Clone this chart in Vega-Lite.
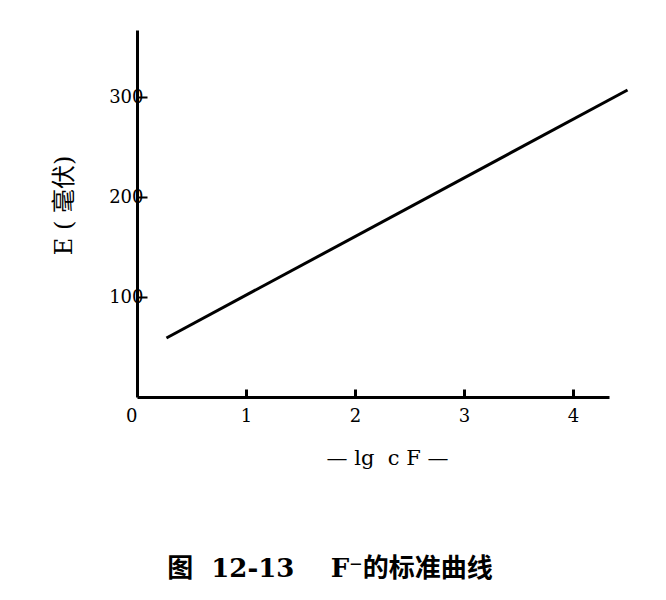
{
  "$schema": "https://vega.github.io/schema/vega-lite/v6.json",
  "width": 472,
  "height": 367,
  "autosize": {"type": "none"},
  "padding": {"left": 137, "top": 30, "right": 57, "bottom": 203},
  "background": "white",
  "config": {"view": {"stroke": null}, "font": "DejaVu Serif"},
  "title": {
    "text": "图\u00a0\u00a012-13\u00a0\u00a0\u00a0\u00a0F⁻的标准曲线",
    "orient": "bottom",
    "anchor": "middle",
    "dx": -43,
    "offset": 88,
    "font": "DejaVu Serif, Noto Sans CJK SC",
    "fontSize": 26,
    "fontWeight": "bold",
    "color": "black"
  },
  "data": {
    "values": [
      {"lgc": 0.27, "E": 59},
      {"lgc": 4.5, "E": 307}
    ]
  },
  "mark": {"type": "line", "color": "black", "strokeWidth": 3, "clip": false},
  "encoding": {
    "x": {
      "field": "lgc",
      "type": "quantitative",
      "scale": {"domain": [0, 4.33], "nice": false, "zero": true},
      "axis": {
        "values": [0, 1, 2, 3, 4],
        "title": "—\u00a0lg\u00a0\u00a0c\u00a0F\u00a0—",
        "titleFont": "DejaVu Serif",
        "titleFontSize": 21,
        "titleFontWeight": "normal",
        "titleColor": "black",
        "titlePadding": 22,
        "titleX": 250,
        "titleAlign": "center",
        "labelFont": "DejaVu Serif",
        "labelFontSize": 18,
        "labelColor": "black",
        "labelPadding": 18,
        "labelAlign": {"condition": {"test": "datum.value === 0", "value": "right"}, "value": "center"},
        "tickSize": -8,
        "tickWidth": 3,
        "tickColor": "black",
        "tickOpacity": {"condition": {"test": "datum.value === 0", "value": 0}, "value": 1},
        "domainColor": "black",
        "domainWidth": 3,
        "grid": false
      }
    },
    "y": {
      "field": "E",
      "type": "quantitative",
      "scale": {"domain": [0, 367], "nice": false},
      "axis": {
        "values": [100, 200, 300],
        "title": "E ( 毫伏)",
        "titleFont": "DejaVu Serif, Noto Sans CJK SC",
        "titleFontSize": 24,
        "titleFontWeight": "normal",
        "titleColor": "black",
        "titlePadding": 32,
        "titleY": 175,
        "labelFont": "DejaVu Serif",
        "labelFontSize": 18,
        "labelColor": "black",
        "labelPadding": 4,
        "tickSize": -10,
        "tickWidth": 2,
        "tickColor": "black",
        "domainColor": "black",
        "domainWidth": 3,
        "grid": false
      }
    }
  }
}
